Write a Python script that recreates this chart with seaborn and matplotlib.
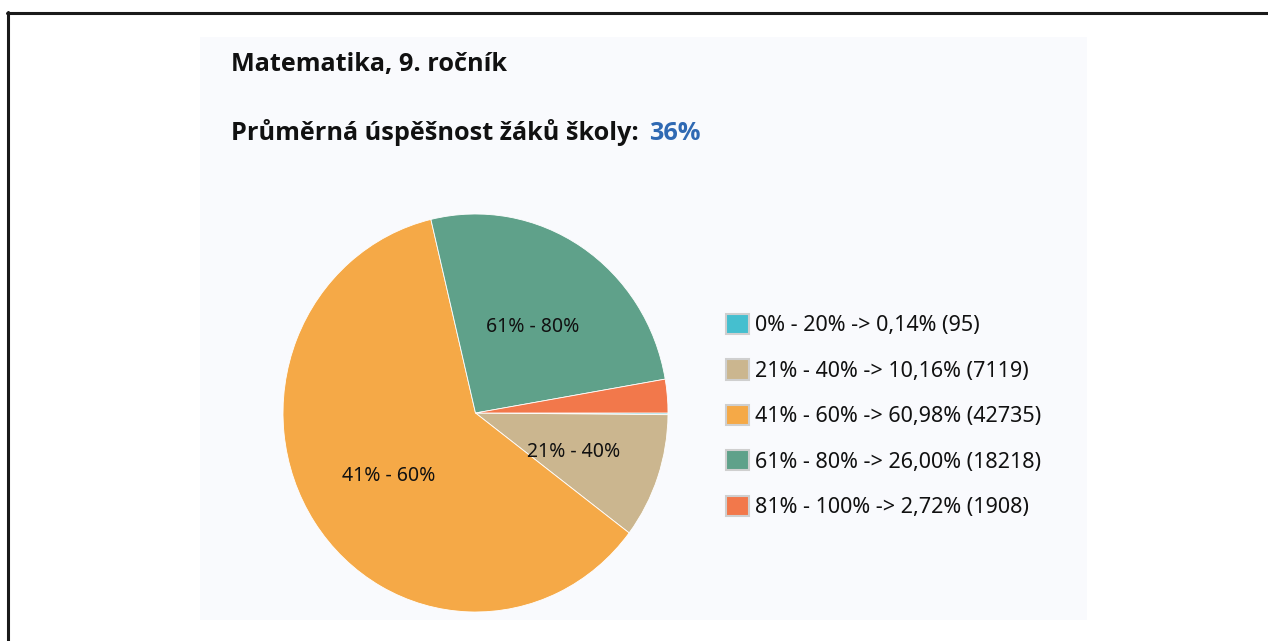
import matplotlib
matplotlib.use('Agg')
import matplotlib.pyplot as plt
from matplotlib.patches import Patch, Rectangle
from matplotlib.lines import Line2D
import seaborn as sns

# data
bands = ['0% - 20%', '21% - 40%', '41% - 60%', '61% - 80%', '81% - 100%']
shares = [0.14, 10.16, 60.98, 26.00, 2.72]
counts = [95, 7119, 42735, 18218, 1908]
colors = ['#45bfcf', '#cbb68f', '#f5a947', '#5fa18a', '#f2784b']

title = 'Matematika, 9. ročník'
subtitle = 'Průměrná úspěšnost žáků školy:'
school_score = '36%'

W, H = 1268, 641


def fx(x):
    return x / W


def fy(y):
    return 1 - y / H


sns.set_theme(style='white')
plt.rcParams['font.family'] = ['Noto Sans', 'DejaVu Sans']
bold_family = ['Open Sans', 'DejaVu Sans']

fig = plt.figure(figsize=(W / 100, H / 100), dpi=100)
fig.patch.set_facecolor('white')

# outer frame (top and left edges only)
fig.add_artist(Line2D([fx(7), 1.0], [fy(13), fy(13)], color='#1a1a1a', lw=2.2,
                      transform=fig.transFigure))
fig.add_artist(Line2D([fx(8), fx(8)], [fy(11.5), 0.0], color='#1a1a1a', lw=2.2,
                      transform=fig.transFigure))

# panel
fig.add_artist(Rectangle((fx(200), fy(620)), fx(887), 583 / H, facecolor='#f9fafd',
                         edgecolor='none', transform=fig.transFigure, zorder=0))

# titles
fig.text(fx(231), fy(70.5), title, fontsize=18.2, fontweight='bold', family=bold_family,
         color='#111111', va='baseline', ha='left')
sub = fig.text(fx(231), fy(140), subtitle, fontsize=18.2, fontweight='bold',
               family=bold_family, color='#111111', va='baseline', ha='left')
renderer = fig.canvas.get_renderer()
bb = sub.get_window_extent(renderer)
fig.text(fx(bb.x1 + 10), fy(140), school_score, fontsize=18.2, fontweight='bold',
         family=bold_family, color='#2f69b3', va='baseline', ha='left')

# pie (slightly taller than wide, as in the source screenshot)
cx, cy, rx, ry = 475.5, 413, 192.5, 199
ax = fig.add_axes([fx(cx - rx), fy(cy + ry), 2 * rx / W, 2 * ry / H])
slice_labels = [b if s >= 5 else '' for b, s in zip(bands, shares)]
wedges, texts = ax.pie(counts, colors=colors, startangle=0, counterclock=False,
                       labels=slice_labels, labeldistance=0.54,
                       wedgeprops=dict(edgecolor='white', linewidth=0.6),
                       textprops=dict(fontsize=14, color='#111111'))
for t in texts:
    x, y = t.get_position()
    t.set_position((x, y - 0.02))
    t.set_ha('center')
ax.set_aspect('auto')
ax.set_xlim(-1, 1)
ax.set_ylim(-1, 1)
ax.axis('off')

# legend
handles = [Patch(facecolor=c, edgecolor='#cfcfcf', linewidth=1.5) for c in colors]
leg_labels = [f"{b} -> {s:.2f}%".replace('.', ',') + f" ({n})"
              for b, s, n in zip(bands, shares, counts)]
fig.legend(handles, leg_labels, loc='upper left', bbox_to_anchor=(fx(726), fy(314)),
           frameon=False, fontsize=15.5, handlelength=1.07, handleheight=1.07,
           handletextpad=0.3, labelspacing=1.065, borderpad=0, borderaxespad=0,
           labelcolor='#111111')

fig.savefig('out.png', dpi=100, facecolor='white')
